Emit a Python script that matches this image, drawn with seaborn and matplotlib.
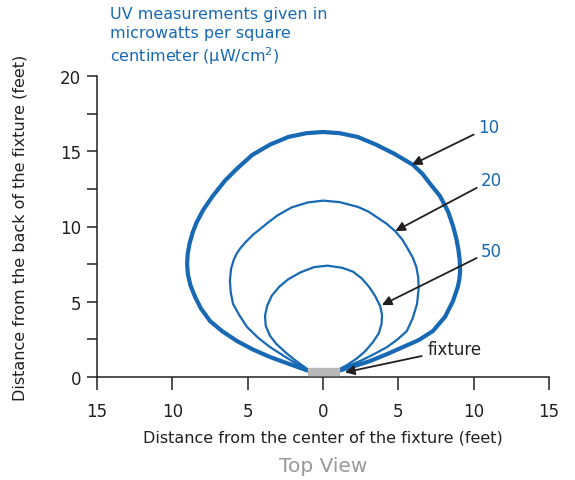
import matplotlib
matplotlib.use("Agg")
import matplotlib.pyplot as plt
import seaborn as sns
import pandas as pd
from matplotlib.patches import Rectangle

# contour for 10 uW/cm2 (feet)
x10 = [-1.0, -2.2, -3.52, -4.7, -5.71, -6.7, -7.5, -8.1, -8.49, -8.8, -8.97, -9.02, -8.98, -8.85, -8.65,
       -8.4, -7.95, -7.3, -6.5, -5.7, -4.7, -3.5, -2.3, -1.1, 0.0, 1.1, 2.3, 3.5, 4.7, 5.97, 6.6, 7.1,
       7.76, 8.3, 8.63, 8.85, 8.98, 9.07, 9.1, 9.05, 8.95, 8.63, 8.1, 7.3, 6.35, 5.31, 4.2, 3.12, 2.0, 1.05]
y10 = [0.42, 0.85, 1.33, 1.85, 2.39, 3.05, 3.72, 4.55, 5.32, 6.1, 6.84, 7.5, 8.2, 8.9, 9.6,
       10.25, 11.1, 12.05, 13.05, 13.85, 14.75, 15.45, 15.95, 16.2, 16.28, 16.2, 15.95, 15.45, 14.85, 14.1, 13.5, 12.85,
       12.03, 11.0, 10.03, 9.2, 8.5, 7.8, 7.0, 6.5, 6.0, 5.05, 4.0, 3.06, 2.45, 1.99, 1.5, 1.06, 0.7, 0.42]

# contour for 20 uW/cm2
x20 = [-1.0, -1.73, -2.6, -3.52, -4.3, -5.04, -5.55, -5.97, -6.12, -6.18, -6.1, -5.92, -5.7, -5.45,
       -5.1, -4.65, -4.15, -3.6, -3.0, -2.08, -1.0, 0.0, 1.1, 2.32, 3.0, 3.6, 4.2, 4.78, 5.25, 5.64,
       5.95, 6.2, 6.32, 6.35, 6.24, 5.95, 5.57, 4.95, 4.25, 3.35, 2.46, 1.7, 1.05]
y20 = [0.5, 0.86, 1.4, 1.99, 2.6, 3.32, 4.1, 4.85, 5.6, 6.4, 7.2, 7.8, 8.25, 8.6,
       9.0, 9.45, 9.85, 10.3, 10.75, 11.27, 11.6, 11.72, 11.62, 11.3, 11.0, 10.6, 10.2, 9.7, 9.15, 8.5,
       7.95, 7.3, 6.6, 5.9, 4.85, 3.9, 3.06, 2.5, 1.99, 1.5, 1.06, 0.75, 0.47]

# contour for 50 uW/cm2
x50 = [-1.0, -1.7, -2.45, -3.1, -3.52, -3.8, -3.85, -3.7, -3.4, -2.9, -2.3, -1.5, -0.6, 0.3,
       1.3, 1.99, 2.57, 3.05, 3.45, 3.8, 3.92, 3.88, 3.7, 3.3, 2.79, 2.2, 1.6, 1.05]
y50 = [0.5, 1.0, 1.6, 2.2, 2.74, 3.4, 4.07, 4.75, 5.4, 6.0, 6.5, 6.95, 7.3, 7.4,
       7.25, 7.0, 6.55, 6.0, 5.4, 4.7, 4.1, 3.5, 2.9, 2.3, 1.7, 1.2, 0.8, 0.5]

levels = ["10", "20", "50"]
label_xy = [(10.3, 16.6), (10.5, 13.1), (10.5, 8.4)]
arrow_tips = [(5.9, 14.1), (4.8, 9.7), (3.91, 4.78)]

fixture_x = (-1.0, 1.06)
fixture_y = (0.1, 0.6)
fixture_label_xy = (6.95, 1.86)
fixture_tip = (1.46, 0.31)

xticks = [-15, -10, -5, 0, 5, 10, 15]
xtick_labels = ["15", "10", "5", "0", "5", "10", "15"]
yticks = [0, 5, 10, 15, 20]

blue = "#1769b4"
dark = "#231f20"

sns.set_style("ticks")
plt.rcParams["font.family"] = ["DejaVu Sans"]

fig = plt.figure(figsize=(5.75, 4.81), dpi=100)
ax = fig.add_axes([97 / 575, 1 - 378 / 481, 452 / 575, 301 / 481])

curves = [(x10, y10, 3.0), (x20, y20, 1.6), (x50, y50, 1.6)]
for xs, ys, lw in curves:
    df = pd.DataFrame({"x": xs, "y": ys})
    sns.lineplot(data=df, x="x", y="y", sort=False, estimator=None, color=blue,
                 linewidth=lw, ax=ax, solid_capstyle="round", solid_joinstyle="round")

ax.add_patch(Rectangle((fixture_x[0], fixture_y[0]), fixture_x[1] - fixture_x[0],
                       fixture_y[1] - fixture_y[0], color="#b9b9b9", zorder=3, clip_on=False))

for lab, xy, tip in zip(levels, label_xy, arrow_tips):
    ax.annotate(lab, xy=tip, xytext=xy, ha="left", va="center", fontsize=12, color=blue,
                arrowprops=dict(arrowstyle="-|>", color=dark, lw=1.3, mutation_scale=14,
                                shrinkA=1, shrinkB=0))

ax.annotate("fixture", xy=fixture_tip, xytext=fixture_label_xy, ha="left", va="center",
            fontsize=12, color=dark,
            arrowprops=dict(arrowstyle="-|>", color=dark, lw=1.3, mutation_scale=14,
                            shrinkA=2, shrinkB=0))

ax.set_xlim(-15, 15)
ax.set_ylim(0, 20)
ax.set_xticks(xticks)
ax.set_xticklabels(xtick_labels)
ax.set_yticks(yticks)
ax.set_yticks([2.5, 7.5, 12.5, 17.5], minor=True)
ax.tick_params(axis="x", length=9, width=1.1, color=dark, labelsize=12, labelcolor=dark, pad=9)
ax.tick_params(axis="y", which="both", length=7.5, width=1.1, color=dark, labelsize=12,
               labelcolor=dark, pad=4)
sns.despine(ax=ax)
for s in ["left", "bottom"]:
    ax.spines[s].set_color(dark)
    ax.spines[s].set_linewidth(1.1)

ax.set_xlabel("Distance from the center of the fixture (feet)", fontsize=11.5, color=dark, labelpad=7)
ax.set_ylabel("Distance from the back of the fixture (feet)", fontsize=11.5, color=dark)
ax.yaxis.set_label_coords(-0.153, 0.5)

fig.text(110 / 575, 1 - 7 / 481, "UV measurements given in\nmicrowatts per square\ncentimeter (μW/cm$^2$)",
         ha="left", va="top", fontsize=11.5, color=blue, linespacing=1.3)
fig.text(323 / 575, 1 - 466 / 481, "Top View", ha="center", va="center", fontsize=14.5, color="#999999")

fig.savefig("out.png", dpi=100)
